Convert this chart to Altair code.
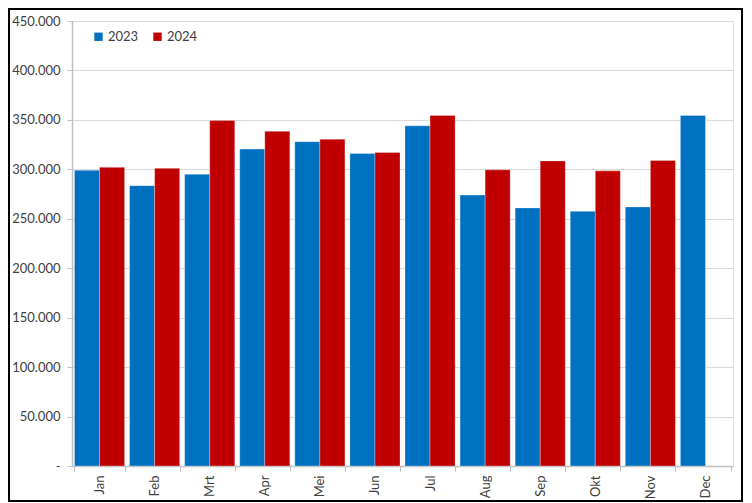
import altair as alt
import pandas as pd

months = ["Jan", "Feb", "Mrt", "Apr", "Mei", "Jun", "Jul", "Aug", "Sep", "Okt", "Nov", "Dec"]
v2023 = [299000, 283500, 295000, 320500, 328000, 316000, 344000, 274000, 261000, 257500, 262000, 354500]
v2024 = [302000, 301000, 349500, 338500, 330500, 317000, 354500, 299500, 308500, 298500, 309000]

rows = []
for m, v in zip(months, v2023):
    rows.append({"maand": m, "jaar": "2023", "waarde": v})
for m, v in zip(months, v2024):
    rows.append({"maand": m, "jaar": "2024", "waarde": v})
df = pd.DataFrame(rows)

FONT = "Lato"
TXT = "#404040"

bars = alt.Chart(df).mark_bar(stroke="#ffffff", strokeWidth=0.6, strokeOpacity=0.5).encode(
    x=alt.X("maand:N", sort=months, title=None,
            scale=alt.Scale(paddingInner=0.09, paddingOuter=0.045),
            axis=alt.Axis(labelAngle=-90, labelFontSize=13, labelColor=TXT, labelFont=FONT,
                          tickBand="extent", tickSize=5, tickColor="#BFBFBF",
                          domainColor="#BFBFBF", domainWidth=1.5, labelPadding=4, grid=False)),
    xOffset=alt.XOffset("jaar:N", sort=["2023", "2024"]),
    y=alt.Y("waarde:Q", title=None,
            scale=alt.Scale(domain=[0, 450000], nice=False),
            axis=alt.Axis(values=list(range(0, 450001, 50000)),
                          labelExpr="datum.value == 0 ? '-' : replace(format(datum.value, ',.0f'), ',', '.')",
                          labelFontSize=13, labelColor=TXT, labelFont=FONT, labelPadding=7,
                          tickSize=5, tickColor="#BFBFBF", domainColor="#BFBFBF", domainWidth=1.5,
                          gridColor="#D9D9D9", gridWidth=1.2)),
    color=alt.Color("jaar:N",
                    scale=alt.Scale(domain=["2023", "2024"], range=["#0070C0", "#C00000"]),
                    legend=alt.Legend(title=None, orient="none", legendX=20, legendY=9,
                                      direction="horizontal", symbolType="square",
                                      symbolSize=70, symbolStrokeWidth=0,
                                      labelFontSize=13, labelColor=TXT, labelFont=FONT,
                                      columnPadding=12, labelOffset=3)),
)

frame = alt.Chart(pd.DataFrame({"k": [0]})).mark_rect(
    fill=None, stroke="#000000", strokeWidth=2, clip=False
).encode(
    x=alt.value(-63), x2=alt.value(670), y=alt.value(-12), y2=alt.value(480)
)

chart = alt.layer(bars, frame).properties(
    width=661, height=445,
    autosize=alt.AutoSizeParams(type="none"),
    padding={"left": 64, "top": 13, "right": 10, "bottom": 37},
).configure_view(stroke=None).configure(background="#ffffff")

chart.save("out.html", embed_options={"renderer": "svg", "actions": False})
